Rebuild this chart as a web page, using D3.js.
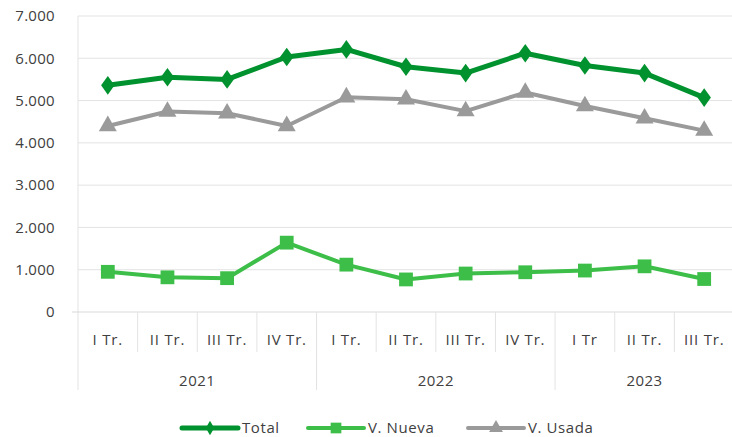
<!DOCTYPE html>
<html>
<head>
<meta charset="utf-8">
<script src="https://cdn.jsdelivr.net/npm/d3@7"></script>
<style>
    body { margin: 0; background: #fff; }
    svg text { font-family: "Open Sans", sans-serif; fill: #404040; }
</style>
</head>
<body>
<div id="chart"></div>
<script>
    const quarters = ["I Tr.", "II Tr.", "III Tr.", "IV Tr.", "I Tr.", "II Tr.", "III Tr.", "IV Tr.", "I Tr", "II Tr.", "III Tr."];
    const years = [{label: "2021", start: 0, count: 4}, {label: "2022", start: 4, count: 4}, {label: "2023", start: 8, count: 3}];
    const total = [5360, 5550, 5500, 6030, 6210, 5800, 5650, 6120, 5830, 5650, 5070];
    const nueva = [950, 820, 800, 1640, 1120, 770, 910, 940, 980, 1080, 780];
    const usada = [4400, 4740, 4700, 4400, 5080, 5030, 4750, 5190, 4870, 4580, 4290];
    const yTicks = [0, 1000, 2000, 3000, 4000, 5000, 6000, 7000];

    (function () {
        const width = 732, height = 437;
        const plotLeft = 78, plotRight = 734, plotTop = 16, plotBottom = 312;

        const svg = d3.select("#chart").append("svg")
            .attr("width", width)
            .attr("height", height);

        const x = d3.scaleBand().domain(d3.range(quarters.length)).range([plotLeft, plotRight]);
        const y = d3.scaleLinear().domain([0, 7000]).range([plotBottom, plotTop]);
        const fmt = function (v) { return d3.format(",")(v).replace(/,/g, "."); };
        const cx = function (i) { return x(i) + x.bandwidth() / 2; };

        // grid
        svg.append("g").selectAll("line").data(yTicks.slice(1)).enter()
            .append("line")
            .attr("x1", plotLeft).attr("x2", plotRight)
            .attr("y1", function (d) { return y(d); }).attr("y2", function (d) { return y(d); })
            .attr("stroke", "#e3e3e3").attr("stroke-width", 1);

        svg.append("g").selectAll("text").data(yTicks).enter()
            .append("text")
            .attr("x", 55).attr("y", function (d) { return y(d); })
            .attr("dy", "0.35em")
            .attr("text-anchor", "end")
            .attr("font-size", 15)
            .attr("letter-spacing", 0.3)
            .text(fmt);

        // left axis line and category separators
        svg.append("line").attr("x1", plotLeft).attr("x2", plotLeft).attr("y1", plotTop).attr("y2", 390)
            .attr("stroke", "#e3e3e3");
        svg.append("line").attr("x1", 72).attr("x2", plotRight).attr("y1", plotBottom).attr("y2", plotBottom)
            .attr("stroke", "#d9d9d9");

        const starts = years.map(function (d) { return d.start; });
        svg.append("g").selectAll("line").data(d3.range(1, quarters.length)).enter()
            .append("line")
            .attr("x1", function (i) { return x(i); }).attr("x2", function (i) { return x(i); })
            .attr("y1", plotBottom)
            .attr("y2", function (i) { return starts.indexOf(i) >= 0 ? 390 : 352; })
            .attr("stroke", "#e3e3e3");

        svg.append("g").selectAll("text").data(quarters).enter()
            .append("text")
            .attr("x", function (d, i) { return cx(i); })
            .attr("y", 345)
            .attr("text-anchor", "middle")
            .attr("font-size", 15)
            .attr("letter-spacing", 0.8)
            .text(function (d) { return d; });

        svg.append("g").selectAll("text").data(years).enter()
            .append("text")
            .attr("x", function (d) { return x(d.start) + d.count * x.bandwidth() / 2; })
            .attr("y", 386)
            .attr("text-anchor", "middle")
            .attr("font-size", 15)
            .attr("letter-spacing", 0.5)
            .text(function (d) { return d.label; });

        const series = [
            {name: "Total", values: total, color: "#00922e", width: 5, marker: d3.symbolDiamond, size: 100},
            {name: "V. Nueva", values: nueva, color: "#3cbe48", width: 4, marker: d3.symbolSquare, size: 190},
            {name: "V. Usada", values: usada, color: "#9a9a9a", width: 4, marker: d3.symbolTriangle, size: 140}
        ];

        const line = d3.line()
            .x(function (d, i) { return cx(i); })
            .y(function (d) { return y(d); });

        series.slice().reverse().forEach(function (s) {
            const g = svg.append("g");
            g.append("path").datum(s.values)
                .attr("d", line)
                .attr("fill", "none")
                .attr("stroke", s.color)
                .attr("stroke-width", s.width)
                .attr("stroke-linejoin", "round");
            g.selectAll("path.m").data(s.values).enter()
                .append("path")
                .attr("class", "m")
                .attr("d", d3.symbol().type(s.marker).size(s.size))
                .attr("transform", function (d, i) {
                    const sx = s.marker === d3.symbolDiamond ? "scale(1.25,1)" : "";
                    return "translate(" + cx(i) + "," + y(d) + ")" + sx;
                })
                .attr("fill", s.color);
        });

        // legend
        const legendX = [182, 308, 468];
        const legend = svg.append("g").selectAll("g").data(series).enter()
            .append("g")
            .attr("transform", function (d, i) { return "translate(" + legendX[i] + ",428)"; });
        legend.append("line")
            .attr("x1", 0).attr("x2", 56)
            .attr("stroke", function (d) { return d.color; })
            .attr("stroke-width", function (d) { return d.width; })
            .attr("stroke-linecap", "round");
        legend.append("path")
            .attr("d", function (d) { return d3.symbol().type(d.marker).size(d.size * 0.6)(); })
            .attr("transform", "translate(28,0)")
            .attr("fill", function (d) { return d.color; });
        legend.append("text")
            .attr("x", 60).attr("dy", "0.35em")
            .attr("font-size", 15)
            .attr("letter-spacing", 0.6)
            .text(function (d) { return d.name; });
    })();
</script>
</body>
</html>
